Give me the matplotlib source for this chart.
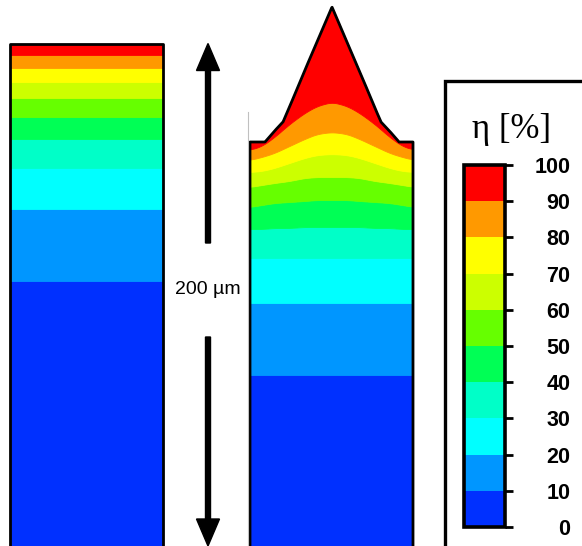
import numpy as np
import matplotlib
matplotlib.use('Agg')
import matplotlib.pyplot as plt
from matplotlib.colors import ListedColormap, BoundaryNorm
from matplotlib.cm import ScalarMappable
from matplotlib.patches import Rectangle

# eta levels [%] and band colours (0-10 ... 90-100)
levels = [0, 10, 20, 30, 40, 50, 60, 70, 80, 90, 100]
band_colors = ['#0030ff', '#0096ff', '#00ffff', '#00ffc8', '#00ff55',
               '#66ff00', '#ccff00', '#ffff00', '#ff9900', '#ff0000']

# left sample: flat bands, height [um] of the 10,20,...,90 % boundaries
left_x = [4.0, 65.2]
left_top = 200.8
left_bounds = [106.0, 134.8, 151.2, 162.8, 171.6, 179.2, 185.6, 191.2, 196.4]

# right sample (tip), symmetric about its crest; d = distance from crest [um]
right_x = [100.0, 165.2]
crest_x = 132.8
half_d = [0, 6, 11, 17, 23, 28, 33]
right_bounds = [
    [68.4] * 7,                                        # 10 %
    [97.2] * 7,                                        # 20 %
    [115.2] * 7,                                       # 30 %
    [127.6, 127.6, 127.6, 127.2, 127.2, 126.8, 126.8],  # 40 %
    [138.4, 138.4, 138.0, 137.6, 137.2, 136.4, 135.6],  # 50 %
    [147.6, 147.6, 147.2, 146.0, 145.2, 144.4, 143.6],  # 60 %
    [156.8, 156.4, 155.2, 153.2, 151.2, 150.0, 149.6],  # 70 %
    [165.6, 164.8, 162.8, 160.0, 157.2, 155.6, 154.4],  # 80 %
    [177.6, 176.0, 173.2, 168.8, 163.6, 160.0, 158.4],  # 90 %
]
outline_d = [0, 6, 11, 17, 19.6, 23, 26.8, 33]
outline_h = [215.6, 201.6, 190.0, 175.6, 169.6, 166.0, 161.6, 161.6]

# 200 um scale arrow
bar_x = 83.2
bar_len = 201.0
bar_gap = [83.6, 121.2]
bar_label = '200 µm'


def smooth(y, n=31):
    # moving average to round off the kinks between read-off points
    pad = np.r_[np.full(n // 2, y[0]), y, np.full(n // 2, y[-1])]
    return np.convolve(pad, np.ones(n) / n, mode='valid')


fig = plt.figure(figsize=(5.82, 5.46), dpi=100)
ax = fig.add_axes([0, 0, 1, 1])
ax.set_xlim(0, 232.8)
ax.set_ylim(0, 218.4)
ax.axis('off')

# left block
lo = [0.0] + left_bounds
hi = left_bounds + [left_top]
for i in range(10):
    ax.fill_between(left_x, lo[i], hi[i], color=band_colors[i], lw=0.6)
ax.plot([left_x[0], left_x[0], left_x[1], left_x[1]], [0, left_top, left_top, 0],
        color='black', lw=2)

# right block
xs = np.linspace(right_x[0], right_x[1], 400)
d = np.abs(xs - crest_x)
top = np.interp(d, outline_d, outline_h)
curves = [np.zeros_like(xs)] + [np.minimum(smooth(np.interp(d, half_d, b)), top)
                                for b in right_bounds]
curves.append(top)
for i in range(10):
    ax.fill_between(xs, curves[i], curves[i + 1], color=band_colors[i], lw=0.6)
ax.plot(np.r_[xs[0], xs, xs[-1]], np.r_[0, top, 0], color='black', lw=2)

# faint edge line
ax.plot([99.2, 99.2], [0, 173.6], color='#c0c0c0', lw=0.8)

# scale arrow
hw, hl, w = 9.2, 10.8, 2.0
ax.arrow(bar_x, bar_gap[1], 0, bar_len - bar_gap[1], width=w, head_width=hw,
         head_length=hl, length_includes_head=True, color='black')
ax.arrow(bar_x, bar_gap[0], 0, -bar_gap[0], width=w, head_width=hw,
         head_length=hl, length_includes_head=True, color='black')
ax.text(bar_x, sum(bar_gap) / 2, bar_label, ha='center', va='center',
        fontsize=14, family='Liberation Sans')

# colorbar frame
fig.patches.append(Rectangle((445 / 582, -0.01), 0.3, 1 - 81 / 546 + 0.01,
                             transform=fig.transFigure, fill=False,
                             edgecolor='black', lw=2.4))
fig.text(512 / 582, 1 - 129 / 546, 'η [%]', ha='center', va='center',
         fontsize=25, family='Liberation Serif')

cax = fig.add_axes([464 / 582, 19 / 546, 41 / 582, 362 / 546])
cmap = ListedColormap(band_colors)
norm = BoundaryNorm(levels, cmap.N)
cb = fig.colorbar(ScalarMappable(norm=norm, cmap=cmap), cax=cax, ticks=levels)
cb.outline.set_linewidth(2.6)
cb.ax.tick_params(length=6, width=2, pad=41, labelsize=15.5)
for t in cb.ax.get_yticklabels():
    t.set_horizontalalignment('right')
    t.set_family('Liberation Sans')
    t.set_fontweight('bold')

fig.savefig('out.png', dpi=100, facecolor='white')
